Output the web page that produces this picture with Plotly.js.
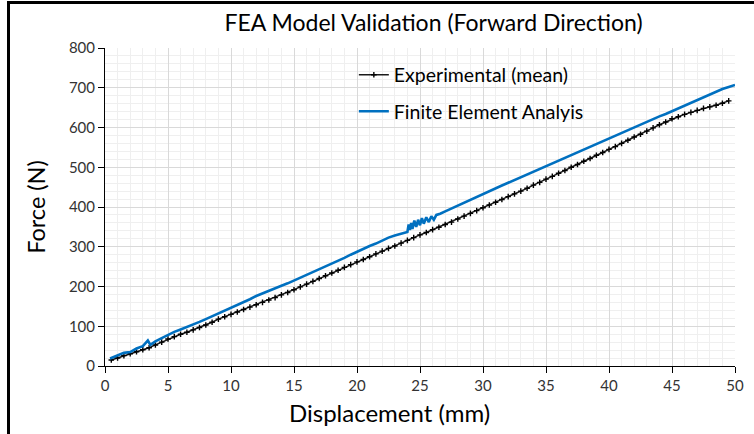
<!DOCTYPE html>
<html>
<head>
<meta charset="utf-8">
<script src="https://cdn.plot.ly/plotly-3.0.1.min.js"></script>
<style>
  html, body { margin: 0; padding: 0; background: #fff; }
  #chart { width: 754px; height: 434px; }
  #frame { position: absolute; left: 7px; top: 1px; width: 760px; height: 440px;
           border-left: 3px solid #000; border-top: 3px solid #000; pointer-events: none; }
</style>
</head>
<body>
<div id="chart"></div>
<div id="frame"></div>
<script>
// Experimental (mean)
const expX = [0.5,1.0,1.5,2.0,2.5,3.0,3.5,4.0,4.5,5.0,5.5,6.0,6.5,7.0,7.5,8.0,8.5,9.0,9.5,10.0,
  10.5,11.0,11.5,12.0,12.5,13.0,13.5,14.0,14.5,15.0,15.5,16.0,16.5,17.0,17.5,18.0,18.5,19.0,19.5,20.0,
  20.5,21.0,21.5,22.0,22.5,23.0,23.5,24.0,24.5,25.0,25.5,26.0,26.5,27.0,27.5,28.0,28.5,29.0,29.5,30.0,
  30.5,31.0,31.5,32.0,32.5,33.0,33.5,34.0,34.5,35.0,35.5,36.0,36.5,37.0,37.5,38.0,38.5,39.0,39.5,40.0,
  40.5,41.0,41.5,42.0,42.5,43.0,43.5,44.0,44.5,45.0,45.5,46.0,46.5,47.0,47.5,48.0,48.5,49.0,49.5];
const expY = [15,20,26,31,36,41,46,53,60,68,74,80,85,91,97,103,110,118,124,130,
  136,142,148,154,160,166,172,179,185,192,199,206,213,220,227,234,241,248,255,262,
  268,275,282,289,296,302,309,316,323,330,336,343,349,356,362,370,377,384,391,398,
  405,412,419,426,433,440,447,455,462,470,477,485,492,500,507,515,522,530,537,545,
  552,560,568,576,583,591,599,607,614,622,627,633,638,643,648,652,656,661,667];

// Finite Element Analysis
const feaX = [0.4,1.0,1.5,2.0,2.5,3.0,3.4,3.6,4.0,4.5,5.0,5.5,6.0,6.5,7.0,7.5,8.0,8.5,9.0,9.5,10.0,
  10.5,11.0,11.5,12.0,12.5,13.0,13.5,14.0,14.5,15.0,15.5,16.0,16.5,17.0,17.5,18.0,18.5,19.0,19.5,20.0,
  20.5,21.0,21.5,22.0,22.5,23.0,23.5,24.0,24.1,24.2,24.3,24.4,24.55,24.7,24.85,25.0,25.15,25.3,25.5,25.7,25.9,26.1,26.3,26.6,
  27.0,27.5,28.0,28.5,29.0,29.5,30.0,30.5,31.0,31.5,32.0,32.5,33.0,33.5,34.0,34.5,35.0,
  35.5,36.0,36.5,37.0,37.5,38.0,38.5,39.0,39.5,40.0,40.5,41.0,41.5,42.0,42.5,43.0,43.5,44.0,44.5,45.0,
  45.5,46.0,46.5,47.0,47.5,48.0,48.5,49.0,49.5,50.0];
const feaY = [19,27,33,35,44,50,64,53,62,70,79,86,92,98,104,111,118,125,133,139,145,
  152,160,168,176,183,189,195,202,208,215,222,229,236,243,250,257,265,272,280,288,
  295,302,308,316,323,328,333,337,356,342,360,345,366,350,368,354,372,358,374,362,377,368,380,383,
  389,396,403,410,418,426,433,440,447,454,461,468,475,482,490,497,504,
  511,518,525,532,539,545,552,559,565,572,579,586,593,600,607,614,621,628,634,641,
  648,655,662,669,677,684,690,697,702,707];

const xTicks = [0,5,10,15,20,25,30,35,40,45,50];
const yTicks = [0,100,200,300,400,500,600,700,800];

const FONT = 'Lato, "Open Sans", sans-serif';

const traces = [
  { x: expX, y: expY, type: 'scatter', mode: 'lines+markers', name: 'Experimental (mean)',
    line: { color: '#1a1a1a', width: 1.5 },
    marker: { symbol: 'cross-thin', size: 4, color: '#000', line: { color: '#000', width: 1.4 } },
    legend: 'legend' },
  { x: feaX, y: feaY, type: 'scatter', mode: 'lines', name: 'Finite Element Analyis',
    line: { color: '#0070C0', width: 2.6 },
    legend: 'legend2' }
];

const legendCommon = { bgcolor: 'rgba(0,0,0,0)', borderwidth: 0, itemwidth: 30,
  font: { family: FONT, size: 19.5, color: '#000' }, xanchor: 'left', yanchor: 'middle' };

const layout = {
  width: 754, height: 434,
  margin: { l: 105, r: 19, t: 48, b: 68 },
  paper_bgcolor: '#fff', plot_bgcolor: '#fff',
  font: { family: FONT, color: '#000' },
  title: { text: 'FEA Model Validation (Forward Direction)', font: { family: FONT, size: 23, color: '#000' },
           x: 0.575, xanchor: 'center', y: 0.946, yanchor: 'middle' },
  xaxis: {
    range: [0, 50], tickvals: xTicks, ticktext: xTicks.map(String),
    ticks: 'outside', ticklen: 6, tickcolor: '#000', tickwidth: 1,
    showline: true, linecolor: '#000', linewidth: 1,
    showgrid: true, gridcolor: '#d9d9d9', gridwidth: 1, zeroline: false,
    minor: { dtick: 1, showgrid: true, gridcolor: '#efefef', gridwidth: 1, ticks: '' },
    tickfont: { family: FONT, size: 15, color: '#333' }
  },
  yaxis: {
    range: [0, 800], tickvals: yTicks, ticktext: yTicks.map(String),
    ticks: 'outside', ticklen: 6, tickcolor: '#000', tickwidth: 1,
    showline: true, linecolor: '#000', linewidth: 1,
    showgrid: true, gridcolor: '#d9d9d9', gridwidth: 1, zeroline: false,
    minor: { dtick: 20, showgrid: true, gridcolor: '#efefef', gridwidth: 1, ticks: '' },
    tickfont: { family: FONT, size: 15, color: '#333' },
    title: { text: 'Force (N)', font: { family: FONT, size: 23.5, color: '#000' }, standoff: 16 }
  },
  annotations: [
    { text: 'Displacement (mm)', xref: 'paper', yref: 'paper', x: 0.452, y: -0.147,
      xanchor: 'center', yanchor: 'middle', showarrow: false,
      font: { family: FONT, size: 24, color: '#000' } }
  ],
  legend: Object.assign({ x: 0.395, y: 0.915 }, legendCommon),
  legend2: Object.assign({ x: 0.395, y: 0.80 }, legendCommon),
  showlegend: true
};

Plotly.newPlot('chart', traces, layout, { displayModeBar: false, staticPlot: true });
</script>
</body>
</html>
